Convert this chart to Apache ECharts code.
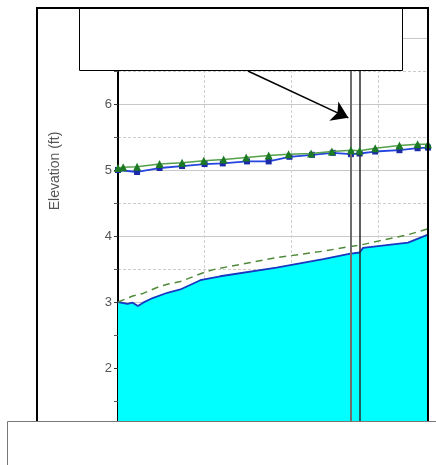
<!DOCTYPE html>
<html><head><meta charset="utf-8">
<script src="https://cdn.jsdelivr.net/npm/echarts@6/dist/echarts.min.js"></script>
<style>html,body{margin:0;padding:0;background:#fff}#c{width:436px;height:465px}</style>
</head><body><div id="c"></div>
<script>
// ---- data ----
const yTickLabels = ['2','3','4','5','6'];
// water surface (filled cyan)
const wsX = [0, 11, 17, 23, 29, 40, 57, 72, 95, 118, 183, 237, 267, 279, 283, 335, 358];
const wsY = [3.00, 2.97, 2.99, 2.94, 2.99, 3.06, 3.14, 3.19, 3.33, 3.39, 3.52, 3.65, 3.73, 3.75, 3.82, 3.90, 4.02];
// dashed green line
const dashX = [0, 17, 29, 45, 57, 72, 102, 113, 182, 237, 268, 279, 303, 335, 358];
const dashY = [3.00, 3.09, 3.13, 3.22, 3.27, 3.31, 3.46, 3.50, 3.67, 3.77, 3.84, 3.86, 3.93, 4.02, 4.11];
// blue line with squares
const blueX = [0, 22, 48, 74, 100, 121, 149, 174, 198, 224, 248, 269, 279, 297, 325, 346, 358];
const blueY = [5.00, 4.97, 5.03, 5.06, 5.09, 5.10, 5.13, 5.13, 5.20, 5.23, 5.26, 5.24, 5.25, 5.28, 5.30, 5.33, 5.34];
// green line with triangles
const greenX = [0, 6, 22, 48, 74, 99, 122, 148, 174, 197, 223, 247, 269, 279, 297, 325, 346, 358];
const greenY = [5.03, 5.04, 5.05, 5.09, 5.11, 5.14, 5.16, 5.19, 5.22, 5.24, 5.25, 5.28, 5.30, 5.29, 5.33, 5.37, 5.39, 5.39];
// structure lines (x positions)
const structX = [269, 279.5];
// arrow annotation [x, y] start and end
const arrowFrom = [150, 6.5];
const arrowTo = [266, 5.79];

const zip = (xs, ys) => xs.map((x, i) => [x, ys[i]]);

const chart = echarts.init(document.getElementById('c'));
const font = '"Liberation Sans", Arial, sans-serif';
chart.setOption({
  animation: false,
  backgroundColor: '#fff',
  grid: { left: 118, right: 8, top: 5, bottom: 31, containLabel: false },
  xAxis: {
    type: 'value', min: 0, max: 358, interval: 100,
    axisLine: { show: false }, axisTick: { show: false }, axisLabel: { show: false },
    splitLine: { show: true, lineStyle: { color: '#cfcfcf', type: [3, 2], width: 1 } }
  },
  yAxis: {
    type: 'value', min: 1, max: 7.5, interval: 1,
    axisLine: { show: true, onZero: false, lineStyle: { color: '#000', width: 2 } },
    axisTick: { show: true, length: 4, lineStyle: { color: '#333' } },
    minorTick: { show: true, splitNumber: 2, length: 4, lineStyle: { color: '#555' } },
    axisLabel: {
      color: '#555', fontSize: 13, fontFamily: font, margin: 6,
      formatter: v => yTickLabels.indexOf(String(v)) >= 0 ? String(v) : ''
    },
    splitLine: { show: true, lineStyle: { color: '#c8c8c8', width: 1 } },
    minorSplitLine: { show: true, lineStyle: { color: '#cccccc', type: [3, 2], width: 1 } }
  },
  series: [
    {
      type: 'line', data: zip(wsX, wsY), symbol: 'none', z: 2,
      lineStyle: { color: '#1838c0', width: 1.8 },
      areaStyle: { color: '#00ffff', opacity: 1, origin: 'start' },
      markLine: {
        silent: true, symbol: 'none', label: { show: false },
        data: [
          { xAxis: structX[0], lineStyle: { color: '#6e6e6e', width: 2, type: 'solid' } },
          { xAxis: structX[1], lineStyle: { color: '#2a2a2a', width: 1.5, type: 'solid' } }
        ]
      }
    },
    {
      type: 'line', data: zip(dashX, dashY), symbol: 'none', z: 3,
      lineStyle: { color: '#4f8a3a', width: 1.5, type: [7, 5] }
    },
    {
      type: 'line', data: zip(blueX, blueY), symbol: 'rect', symbolSize: 6, z: 4,
      itemStyle: { color: '#1a2aa8' },
      lineStyle: { color: '#2545e0', width: 1.8 }
    },
    {
      type: 'line', data: zip(greenX, greenY), symbol: 'triangle', symbolSize: 8, z: 5,
      itemStyle: { color: '#1d7a24' },
      lineStyle: { color: '#55a04a', width: 1.5 },
      markLine: {
        silent: true, symbol: ['none', 'arrow'], symbolSize: [16, 16], label: { show: false },
        lineStyle: { color: '#000', width: 1.5, type: 'solid' },
        data: [[{ coord: arrowFrom }, { coord: arrowTo }]]
      }
    }
  ],
  graphic: [
    { type: 'rect', z: 100, shape: { x: 0, y: 0, width: 436, height: 8 }, style: { fill: '#fff' } },
    { type: 'rect', z: 101, shape: { x: 37, y: 8, width: 391, height: 440 }, style: { fill: 'none', stroke: '#000', lineWidth: 2 } },
    { type: 'rect', z: 102, shape: { x: 79.5, y: 8.5, width: 323, height: 62 }, style: { fill: '#fff', stroke: '#000', lineWidth: 1 } },
    { type: 'rect', z: 102, shape: { x: 7.5, y: 421.5, width: 440, height: 60 }, style: { fill: '#fff', stroke: '#777', lineWidth: 1 } },
    { type: 'text', z: 103, x: 55, y: 171, rotation: Math.PI / 2,
      style: { text: 'Elevation (ft)', fill: '#555', font: '14px ' + font, align: 'center', verticalAlign: 'middle' } }
  ]
});
</script></body></html>
